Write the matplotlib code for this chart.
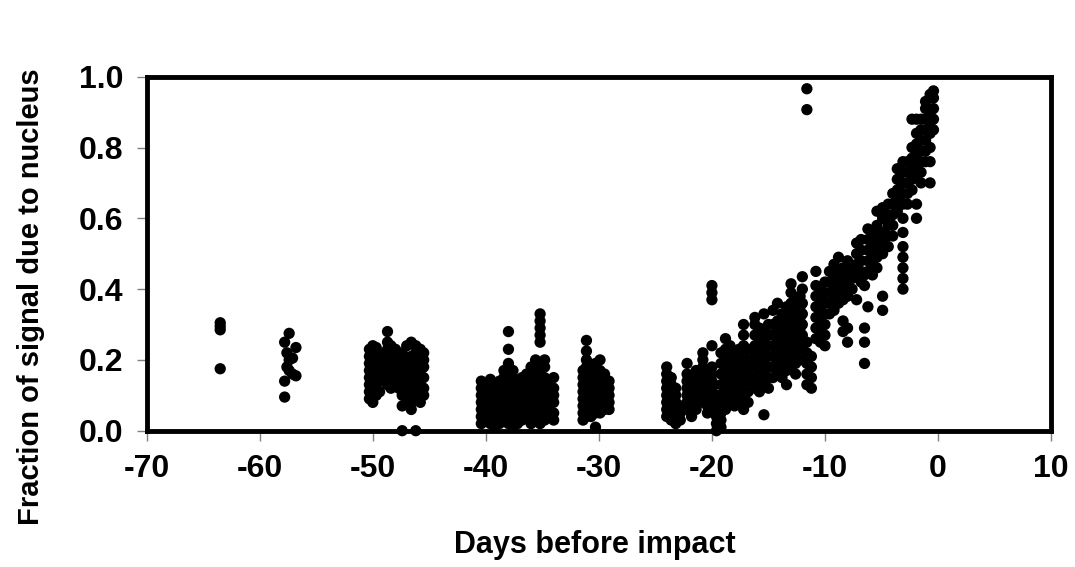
import matplotlib
matplotlib.use("Agg")
import matplotlib.pyplot as plt

plt.rcParams['font.family'] = ['Liberation Sans', 'DejaVu Sans']

early_obs = {
    -63.5: [0.305, 0.295, 0.285, 0.175],
    -57.8: [0.25, 0.14, 0.095],
    -57.6: [0.22, 0.18],
    -57.4: [0.275, 0.2, 0.17],
    -57.1: [0.205, 0.16],
    -56.8: [0.235, 0.155],
}

obs_50 = {
    -50.3: [0.09, 0.11, 0.13, 0.15, 0.17, 0.19, 0.21, 0.23],
    -50.0: [0.08, 0.10, 0.12, 0.14, 0.16, 0.18, 0.20, 0.22, 0.24],
    -49.7: [0.10, 0.13, 0.15, 0.17, 0.19, 0.21, 0.235],
    -49.4: [0.11, 0.14, 0.18, 0.20, 0.22],
    -49.0: [0.14, 0.16, 0.18, 0.20],
    -48.7: [0.13, 0.15, 0.17, 0.19, 0.21, 0.23, 0.25, 0.28],
    -48.4: [0.12, 0.14, 0.16, 0.18, 0.20, 0.22, 0.24],
    -48.0: [0.13, 0.15, 0.17, 0.19, 0.21, 0.23],
    -47.7: [0.12, 0.14, 0.16, 0.18, 0.20],
    -47.4: [0.0, 0.07, 0.10, 0.12, 0.15, 0.17, 0.19, 0.22],
    -47.0: [0.09, 0.12, 0.14, 0.16, 0.18, 0.20, 0.24],
    -46.6: [0.06, 0.08, 0.11, 0.13, 0.15, 0.17, 0.19, 0.21, 0.25],
    -46.2: [0.0, 0.09, 0.12, 0.14, 0.16, 0.18, 0.20, 0.22, 0.24],
    -45.8: [0.08, 0.10, 0.13, 0.15, 0.17, 0.19, 0.21, 0.23],
    -45.5: [0.10, 0.12, 0.15, 0.18, 0.20, 0.22],
}

obs_40 = {
    -40.4: [0.02, 0.04, 0.06, 0.08, 0.10, 0.12, 0.14],
    -40.0: [0.03, 0.05, 0.07, 0.09, 0.11, 0.13],
    -39.6: [0.02, 0.04, 0.06, 0.08, 0.10, 0.12, 0.145],
    -39.2: [0.01, 0.03, 0.05, 0.07, 0.09, 0.11, 0.13],
    -38.8: [0.02, 0.04, 0.06, 0.08, 0.10, 0.12, 0.14],
    -38.4: [0.03, 0.05, 0.07, 0.09, 0.11, 0.13, 0.15, 0.17],
    -38.0: [0.02, 0.04, 0.06, 0.08, 0.10, 0.12, 0.14, 0.16, 0.19, 0.23, 0.28],
    -37.6: [0.01, 0.03, 0.05, 0.07, 0.09, 0.11, 0.13, 0.15, 0.17],
    -37.2: [0.02, 0.04, 0.06, 0.08, 0.10, 0.12, 0.14],
    -36.8: [0.03, 0.05, 0.07, 0.09, 0.11, 0.13, 0.15],
    -36.4: [0.04, 0.06, 0.08, 0.10, 0.12, 0.14, 0.16],
    -36.0: [0.02, 0.05, 0.07, 0.09, 0.11, 0.13, 0.15, 0.18],
    -35.6: [0.03, 0.05, 0.07, 0.09, 0.11, 0.13, 0.15, 0.17, 0.20],
    -35.2: [0.02, 0.04, 0.06, 0.08, 0.10, 0.12, 0.14, 0.16, 0.19,
            0.25, 0.27, 0.29, 0.31, 0.33],
    -34.8: [0.03, 0.05, 0.07, 0.09, 0.11, 0.13, 0.15, 0.18, 0.20],
    -34.4: [0.04, 0.06, 0.08, 0.10, 0.12, 0.14],
    -34.0: [0.03, 0.05, 0.08, 0.10, 0.12, 0.15],
}

obs_30 = {
    -31.4: [0.03, 0.05, 0.07, 0.09, 0.11, 0.13, 0.15, 0.17],
    -31.1: [0.04, 0.06, 0.08, 0.10, 0.12, 0.14, 0.16, 0.18, 0.20, 0.225, 0.255],
    -30.7: [0.04, 0.06, 0.08, 0.10, 0.12, 0.14, 0.16],
    -30.3: [0.01, 0.05, 0.07, 0.09, 0.11, 0.13, 0.15, 0.17, 0.19],
    -29.9: [0.05, 0.07, 0.09, 0.11, 0.13, 0.15, 0.17, 0.20],
    -29.5: [0.06, 0.08, 0.10, 0.12, 0.14, 0.16],
    -29.1: [0.06, 0.08, 0.10, 0.12, 0.14],
}

obs_late = {
    -24.0: [0.04, 0.06, 0.08, 0.10, 0.12, 0.14, 0.16, 0.18],
    -23.6: [0.03, 0.05, 0.07, 0.09, 0.11, 0.13, 0.15],
    -23.2: [0.02, 0.04, 0.06, 0.08, 0.10, 0.12],
    -22.8: [0.03, 0.05, 0.07],
    -22.2: [0.06, 0.08, 0.10, 0.12, 0.14, 0.16, 0.19],
    -21.8: [0.04, 0.06, 0.08, 0.10, 0.12, 0.14],
    -21.4: [0.06, 0.08, 0.10, 0.12, 0.15, 0.17],
    -20.8: [0.08, 0.10, 0.12, 0.14, 0.16, 0.18, 0.20, 0.22],
    -20.4: [0.05, 0.07, 0.09, 0.11, 0.13, 0.15, 0.17],
    -20.0: [0.06, 0.08, 0.10, 0.12, 0.14, 0.16, 0.18, 0.24, 0.37, 0.39, 0.41],
    -19.6: [0.0, 0.02, 0.04, 0.06, 0.08, 0.10],
    -19.2: [0.01, 0.03, 0.05, 0.10, 0.13, 0.16, 0.19, 0.22],
    -18.8: [0.06, 0.08, 0.11, 0.14, 0.17, 0.20, 0.23, 0.26],
    -18.4: [0.09, 0.12, 0.15, 0.18, 0.21, 0.24],
    -18.0: [0.07, 0.10, 0.13, 0.16, 0.19, 0.22],
    -17.6: [0.08, 0.11, 0.14, 0.17, 0.20, 0.23],
    -17.2: [0.06, 0.09, 0.12, 0.15, 0.18, 0.21, 0.24, 0.27, 0.30],
    -16.8: [0.08, 0.11, 0.14, 0.17, 0.20, 0.23],
    -16.2: [0.12, 0.15, 0.18, 0.21, 0.24, 0.27, 0.30, 0.32],
    -15.8: [0.11, 0.14, 0.17, 0.20, 0.23, 0.26, 0.29],
    -15.4: [0.045, 0.13, 0.16, 0.19, 0.22, 0.25, 0.28, 0.33],
    -15.0: [0.12, 0.15, 0.18, 0.21, 0.24, 0.27, 0.30],
    -14.6: [0.15, 0.18, 0.21, 0.24, 0.27, 0.30, 0.34],
    -14.2: [0.16, 0.19, 0.22, 0.25, 0.28, 0.31, 0.36],
    -13.8: [0.15, 0.18, 0.21, 0.24, 0.27, 0.30, 0.33],
    -13.4: [0.13, 0.17, 0.20, 0.23, 0.26, 0.29, 0.32, 0.35],
    -13.0: [0.18, 0.21, 0.24, 0.27, 0.30, 0.33, 0.36, 0.39, 0.415],
    -12.6: [0.16, 0.19, 0.22, 0.25, 0.28, 0.31, 0.34, 0.37],
    -12.2: [0.20, 0.23, 0.26, 0.29, 0.32, 0.35, 0.38],
    -12.0: [0.24, 0.27, 0.30, 0.33, 0.36, 0.40, 0.435],
    -11.6: [0.13, 0.16, 0.19, 0.22, 0.25, 0.907, 0.966],
    -11.2: [0.12, 0.15, 0.18, 0.21],
    -10.8: [0.26, 0.29, 0.32, 0.35, 0.38, 0.41, 0.45],
    -10.4: [0.25, 0.28, 0.31, 0.34, 0.37, 0.40],
    -10.0: [0.24, 0.27, 0.30, 0.33, 0.36, 0.39, 0.42],
    -9.6: [0.33, 0.36, 0.39, 0.42, 0.45],
    -9.2: [0.34, 0.37, 0.40, 0.43, 0.47],
    -8.8: [0.36, 0.39, 0.42, 0.45, 0.49],
    -8.4: [0.28, 0.31, 0.37, 0.40, 0.43, 0.46],
    -8.0: [0.25, 0.29, 0.38, 0.41, 0.44, 0.48],
    -7.6: [0.40, 0.43, 0.46],
    -7.2: [0.37, 0.44, 0.47, 0.50, 0.53],
    -6.8: [0.42, 0.45, 0.48, 0.51, 0.54],
    -6.5: [0.19, 0.25, 0.29, 0.41, 0.44],
    -6.2: [0.35, 0.45, 0.48, 0.51, 0.54, 0.57],
    -5.8: [0.44, 0.47, 0.50, 0.53, 0.56],
    -5.4: [0.46, 0.49, 0.52, 0.55, 0.58, 0.62],
    -4.9: [0.34, 0.38, 0.50, 0.53, 0.56, 0.60, 0.63],
    -4.4: [0.52, 0.55, 0.58, 0.61, 0.64],
    -4.0: [0.55, 0.58, 0.61, 0.64, 0.67],
    -3.6: [0.62, 0.65, 0.68, 0.71, 0.74],
    -3.1: [0.40, 0.43, 0.46, 0.49, 0.52, 0.56, 0.60, 0.64, 0.67, 0.70, 0.73, 0.76],
    -2.7: [0.64, 0.67, 0.70, 0.73, 0.76],
    -2.3: [0.68, 0.71, 0.74, 0.77, 0.80, 0.88],
    -1.9: [0.60, 0.64, 0.72, 0.75, 0.78, 0.81, 0.84, 0.88],
    -1.5: [0.70, 0.73, 0.76, 0.79, 0.82, 0.85, 0.88],
    -1.1: [0.76, 0.79, 0.82, 0.85, 0.88, 0.91, 0.93],
    -0.7: [0.70, 0.76, 0.80, 0.84, 0.87, 0.90, 0.94, 0.95],
    -0.4: [0.85, 0.88, 0.91, 0.94, 0.96],
}

x_ticks = [-70, -60, -50, -40, -30, -20, -10, 0, 10]
y_ticks = [0.0, 0.2, 0.4, 0.6, 0.8, 1.0]


def flatten(groups):
    days, fracs = [], []
    for g in groups:
        for d, ys in g.items():
            for y in ys:
                days.append(d)
                fracs.append(y)
    return days, fracs


days, fracs = flatten([early_obs, obs_50, obs_40, obs_30, obs_late])

fig = plt.figure(figsize=(10.75, 5.67), dpi=100)
ax = fig.add_axes([0.1365, 0.2404, 0.8412, 0.6243])
ax.scatter(days, fracs, s=66, c='black', edgecolors='none', zorder=3, clip_on=False)

ax.set_xlim(-70, 10)
ax.set_ylim(0, 1)
ax.set_xticks(x_ticks)
ax.set_yticks(y_ticks)
ax.set_xticklabels([str(t) for t in x_ticks])
ax.set_yticklabels(["%.1f" % t for t in y_ticks])
for s in ax.spines.values():
    s.set_linewidth(3.5)
    s.set_color('black')
ax.tick_params(direction='out', length=7, width=1, color='#808080', pad=10,
               labelsize=23)
for lab in ax.get_xticklabels() + ax.get_yticklabels():
    lab.set_fontweight('bold')

fig.text(0.553, 0.039, "Days before impact", ha='center', va='center',
         fontsize=22, fontweight='bold')
fig.text(0.029, 0.476, "Fraction of signal due to nucleus", ha='center', va='center',
         rotation=90, fontsize=21, fontweight='bold')

fig.savefig("out.png", dpi=100)
